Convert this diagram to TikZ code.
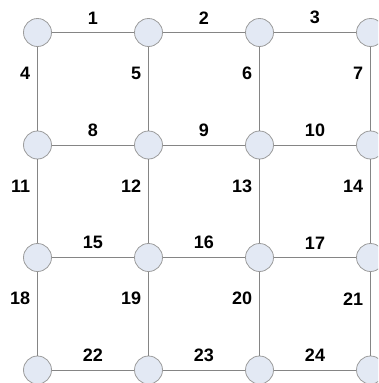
\documentclass[tikz,border=0pt]{standalone}
\usepackage{fontspec}
\setmainfont{Liberation Sans}
\definecolor{knoopvul}{HTML}{E3E9F4}
\definecolor{knooprand}{HTML}{9C9C9C}
\definecolor{ribgrijs}{HTML}{858585}
\tikzset{
  nummer/.style={font=\fontsize{18}{18}\selectfont\bfseries, inner sep=1pt},
  knoop/.style={circle, draw=knooprand, fill=knoopvul, minimum size=28pt, inner sep=0pt},
  rib/.style={draw=ribgrijs}}
\begin{document}
\begin{tikzpicture}[x=1pt, y=-1pt, line width=0.8pt]
  \useasboundingbox (0,0) rectangle (378,383); \clip (0,0) rectangle (378,383);
  % raster van 4 x 4 knopen, rechter kolom en onderste rij vallen half buiten beeld
  \foreach \r in {0,1,2,3} \foreach \c in {0,1,2,3}
    \node[knoop] (k\r\c) at (37.5+111*\c, 32.5+112.5*\r) {};
  % horizontale ribben, label erboven
  \foreach \r in {0,1,2,3} \foreach \c/\d in {0/1,1/2,2/3} {
    \pgfmathtruncatemacro{\n}{7*\r+\c+1}
    \draw[rib] (k\r\c) -- node[nummer, above=7pt] (h\r\c) {\n} (k\r\d);
  }
  % verticale ribben, label links en iets boven het midden
  \foreach \r/\s in {0/1,1/2,2/3} \foreach \c in {0,1,2,3} {
    \pgfmathtruncatemacro{\n}{7*\r+\c+4}
    \draw[rib] (k\r\c) -- node[nummer, left=6pt, yshift=15pt] (v\r\c) {\n} (k\s\c);
  }
\end{tikzpicture}
\end{document}
